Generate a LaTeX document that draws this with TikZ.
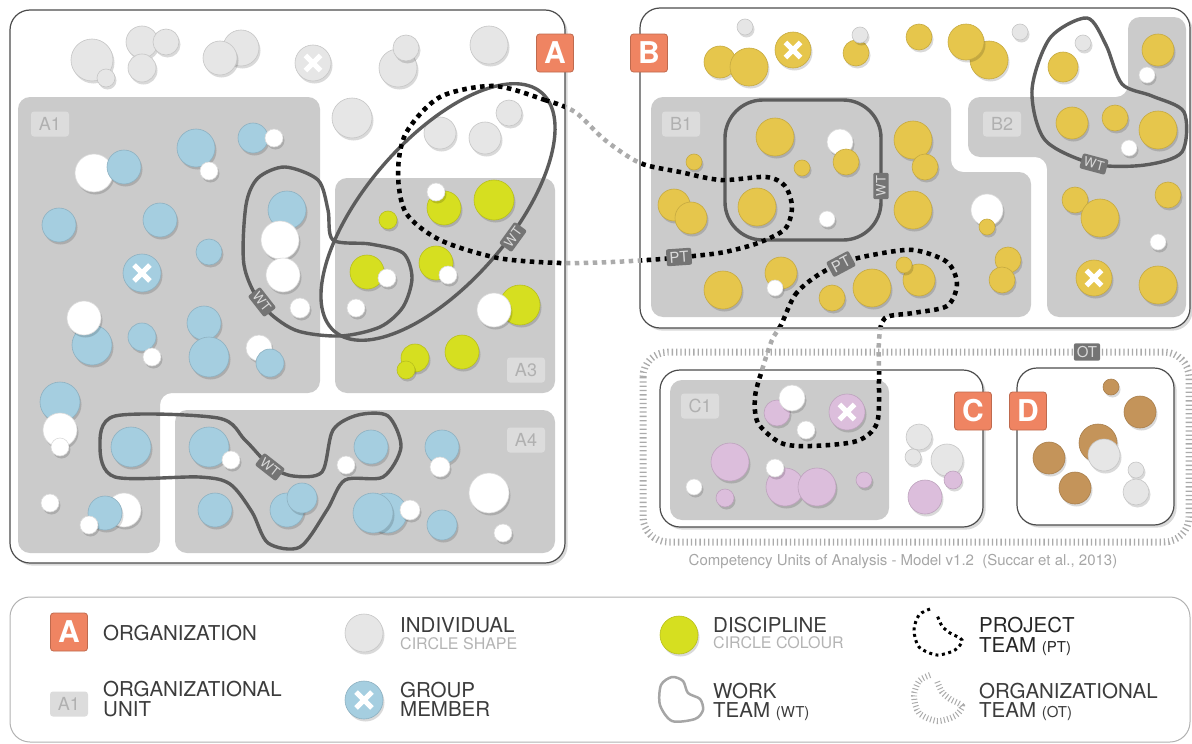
\documentclass[tikz,border=0pt]{standalone}
\usepackage{fontspec}
\setmainfont{TeX Gyre Heros}
\usetikzlibrary{positioning, shadows}

\definecolor{orgorange}{HTML}{EF8462}
\definecolor{unitgray}{HTML}{CBCBCB}
\definecolor{tagfill}{HTML}{DCDCDC}
\definecolor{tagtext}{HTML}{B0B0B0}
\definecolor{indiv}{HTML}{E6E6E6}
\definecolor{blu}{HTML}{A5CEE0}
\definecolor{grn}{HTML}{D6DF20}
\definecolor{gld}{HTML}{E6C64C}
\definecolor{pnk}{HTML}{DCBEDC}
\definecolor{brn}{HTML}{C4945A}
\definecolor{wtline}{HTML}{5C5C5C}
\definecolor{ptgray}{HTML}{ABABAB}
\definecolor{legtext}{HTML}{3C3C3C}
\definecolor{lighttext}{HTML}{B4B4B4}

% one person: colour, x, y, radius
\newcommand{\person}[4]{%
  \fill[black, opacity=.15] (#2+1.5,#3+2.5) circle (#4pt);
  \filldraw[fill=#1, draw=#1!86!black, line width=.6pt] (#2,#3) circle (#4pt);}
% group member cross: x, y, radius
\newcommand{\grpx}[3]{%
  \draw[xmark] (#1-.42*#3,#2-.42*#3) -- (#1+.42*#3,#2+.42*#3)
    (#1-.42*#3,#2+.42*#3) -- (#1+.42*#3,#2-.42*#3);}

\begin{document}
\begin{tikzpicture}[x=1pt, y=-1pt,
  orgbox/.style={fill=white, draw=black!70, line width=1.2pt, rounded corners=20pt, drop shadow={opacity=.3}},
  unit/.style={fill=unitgray, rounded corners=12pt},
  unittag/.style={fill=tagfill, text=tagtext, rounded corners=3pt, minimum width=38pt, minimum height=25pt, inner sep=0pt, font=\fontsize{18}{18}\selectfont},
  orglbl/.style={fill=orgorange, draw=orgorange!80!black, line width=.8pt, text=white, rounded corners=3pt, minimum width=37pt, minimum height=38pt, inner sep=0pt, font=\fontsize{30}{30}\selectfont\bfseries},
  wtpath/.style={draw=wtline, line width=3.4pt},
  ptpath/.style={line width=4.5pt, dash pattern=on 4.5pt off 4.5pt},
  otpath/.style={draw=ptgray, line width=7pt, dash pattern=on 1.3pt off 3pt},
  teamtag/.style={fill=wtline!85!white, text=white!85!black, rounded corners=2pt, inner sep=3pt, font=\fontsize{13}{13}\selectfont},
  xmark/.style={white, line width=5pt},
  legtxt/.style={anchor=base west, inner sep=0pt, text=legtext, font=\fontsize{20.5}{20.5}\selectfont},
  legsub/.style={anchor=base west, inner sep=0pt, text=lighttext, font=\fontsize{16}{16}\selectfont}]
\useasboundingbox (0,0) rectangle (1192,744);

% legend frame and organizational team
\path[fill=white, draw=black!30, line width=1pt, rounded corners=20pt] (10,597) rectangle (1190,742);
\draw[otpath, rounded corners=25pt] (643,352) rectangle (1189,542);

% organizations
\path[orgbox] (10,10) rectangle (565,563);
\path[orgbox] (640,8) rectangle (1190,328);
\path[orgbox] (660,370) rectangle (983,527);
\path[orgbox] (1017,368) rectangle (1174,525);

% organizational units
\path[unit] (18,97) -- (320,97) -- (320,393) -- (160,393) -- (160,553) -- (18,553) -- cycle;
\path[unit] (335,178) rectangle (555,393);
\path[unit] (175,410) rectangle (555,553);
\path[unit] (651,97) -- (951,97) -- (951,172) -- (1031,172) -- (1031,317) -- (651,317) -- cycle;
\path[unit] (968,97) -- (1128,97) -- (1128,17) -- (1186,17) -- (1186,317) -- (1047,317) -- (1047,157) -- (968,157) -- cycle;
\path[unit] (670,380) rectangle (889,520);

\node[unittag] (tA1) at (50,124) {A1};
\node[unittag] (tA3) at (526,370) {A3};
\node[unittag] (tA4) at (526,440) {A4};
\node[unittag] (tB1) at (681,124) {B1};
\node[unittag] (tB2) at (1002,124) {B2};
\node[unittag] (tC1) at (700,406) {C1};

% individuals of A
\foreach \c/\x/\y/\r in {indiv/92/60/21, indiv/106/78/9, indiv/142/42/16, indiv/166/42/13, indiv/142/68/14,
    indiv/241/48/18, indiv/220/58/17, indiv/313/63/18, indiv/398/68/19, indiv/406/48/13, indiv/489/45/19,
    indiv/352/118/20, indiv/440/133/16, indiv/485/138/16, indiv/509/113/13,
    white/94/173/19, blu/124/167/17, blu/196/148/19, white/209/171/9, blu/253/138/15, white/274/138/9,
    blu/59/225/17, blu/160/220/17, blu/209/252/13, blu/142/273/19,
    blu/287/210/19, white/280/240/19, white/283/275/17,
    blu/92/345/20, white/84/318/17, blu/142/337/14, white/152/357/9,
    blu/204/323/17, blu/209/357/20, white/259/348/13, blu/270/363/14, white/300/308/10,
    blu/60/402/20, white/60/430/17, white/60/447/9, white/50/503/9,
    white/124/510/17, blu/105/513/17, white/89/525/9, blu/131/447/20,
    blu/209/447/20, white/231/460/9, blu/215/510/17, blu/287/510/17, blu/302/498/15,
    white/346/465/9, blu/371/447/17, blu/442/447/17, white/440/467/10,
    blu/387/513/20, blu/373/513/20, white/410/510/10, blu/442/525/15, white/489/493/20, white/503/533/9,
    grn/444/208/17, white/436/192/9, grn/494/200/20, grn/388/220/9,
    grn/367/272/17, white/387/278/9, grn/436/263/17, white/448/275/9, white/356/308/9,
    grn/520/305/20, white/494/310/17, grn/415/358/14, grn/406/370/9, grn/462/352/17}
  {\person{\c}{\x}{\y}{\r}}

% individuals of B
\foreach \c/\x/\y/\r in {indiv/745/27/8, gld/720/62/16, gld/749/67/19, gld/793/50/18,
    gld/856/53/13, indiv/860/35/8, gld/919/37/13, gld/989/60/19, gld/966/42/18, indiv/1020/32/8,
    gld/1063/67/15, indiv/1083/43/8, gld/1158/50/16, white/1147/75/8,
    gld/694/162/8, gld/775/137/19, white/840/142/13, gld/846/162/13, gld/802/168/8,
    gld/913/140/19, gld/925/167/13, gld/674/205/16, gld/691/218/16, gld/757/207/19,
    white/827/219/8, gld/913/210/19, white/987/210/16, gld/987/227/8,
    gld/1008/260/13, gld/1002/280/13, gld/723/290/19, gld/781/273/16, white/775/288/8,
    gld/832/298/13, gld/872/288/19, gld/919/280/16, gld/904/265/8,
    gld/1072/123/16, gld/1115/118/13, gld/1158/130/19, white/1129/148/8,
    gld/1075/200/13, gld/1100/218/19, gld/1168/195/13, white/1158/242/8,
    gld/1094/278/18, gld/1158/285/19}
  {\person{\c}{\x}{\y}{\r}}

% individuals of C and D
\foreach \c/\x/\y/\r in {pnk/777/413/13, white/792/398/13, pnk/847/412/18, white/806/430/9,
    pnk/730/462/19, pnk/785/487/19, pnk/817/487/19, white/775/468/9, white/694/487/8,
    pnk/725/498/9, pnk/864/480/8,
    indiv/919/437/13, indiv/913/457/8, indiv/947/460/16, pnk/953/480/9, pnk/925/497/17,
    brn/1111/387/8, brn/1140/412/16, brn/1098/443/19, indiv/1104/455/16, brn/1049/458/16,
    indiv/1136/470/8, indiv/1136/492/13, brn/1075/488/16}
  {\person{\c}{\x}{\y}{\r}}

% group members
\grpx{313}{63}{18}
\grpx{142}{273}{19}
\grpx{793}{50}{18}
\grpx{1094}{278}{18}
\grpx{847}{412}{18}

% work teams
\draw[wtpath] plot[smooth cycle] coordinates {(285,167) (318,180) (328,210) (333,240) (370,244) (403,253)
  (412,278) (403,307) (380,327) (340,336) (295,330) (262,305) (244,265) (246,205) (258,178)};
\draw[wtpath, rotate around={49:(438,212)}] (438,212) ellipse (158pt and 72pt);
\draw[wtpath] plot[smooth cycle] coordinates {(115,416) (218,418) (245,440) (270,466) (293,476) (322,472)
  (333,430) (358,415) (388,416) (401,447) (383,477) (345,480) (327,510) (300,547) (268,543) (252,512)
  (230,484) (199,477) (115,477) (100,447)};
\draw[wtpath, rounded corners=38pt] (725,100) rectangle (881,240);
\draw[wtpath] plot[smooth cycle] coordinates {(1087,18) (1050,38) (1032,90) (1045,140) (1094,164)
  (1145,165) (1182,152) (1184,112) (1152,96) (1122,84) (1106,45)};

\node[teamtag, rotate=-52] (wt1) at (262,302) {WT};
\node[teamtag, rotate=54] (wt2) at (513,237) {WT};
\node[teamtag, rotate=-38] (wt3) at (270,467) {WT};
\node[teamtag, rotate=90] (wt4) at (881,186) {WT};
\node[teamtag, rotate=-15] (wt5) at (1094,164) {WT};

% project teams
\def\ptone{(494,86) (545,100) (575,112) (605,140) (640,163) (680,172) (721,180) (766,177) (785,186)
  (792,207) (785,229) (758,243) (725,252) (694,256) (662,259) (612,262) (560,263) (498,258) (440,240)
  (406,213) (398,173) (406,133) (440,97)}
\def\pttwo{(781,325) (795,295) (815,277) (841,263) (872,255) (913,250) (947,262) (957,284) (947,306)
  (913,313) (885,318) (879,340) (879,380) (877,423) (857,441) (811,446) (781,443) (758,423) (755,397)
  (762,370) (772,340)}
\draw[ptpath, ptgray] plot[smooth cycle] coordinates {\ptone};
\draw[ptpath, ptgray] plot[smooth cycle] coordinates {\pttwo};
\begin{scope}
  \clip (10,10) rectangle (565,563) (641,9) rectangle (1190,327) (661,371) rectangle (983,527);
  \draw[ptpath, black] plot[smooth cycle] coordinates {\ptone};
  \draw[ptpath, black] plot[smooth cycle] coordinates {\pttwo};
\end{scope}
\node[teamtag, font=\fontsize{15}{15}\selectfont, rotate=4] (pt1) at (679,257) {PT};
\node[teamtag, font=\fontsize{15}{15}\selectfont, rotate=28] (pt2) at (841,264) {PT};
\node[teamtag, font=\fontsize{15}{15}\selectfont] (ot1) at (1087,352) {OT};

% organization labels
\node[orglbl] (lA) at (555,53) {A};
\node[orglbl] (lB) at (649,53) {B};
\node[orglbl] (lC) at (973,411) {C};
\node[orglbl] (lD) at (1028,411) {D};

\node[anchor=base, text=black!35, font=\fontsize{15}{15}\selectfont] (cap) at (903,565)
  {Competency Units of Analysis - Model v1.2~~(Succar et al., 2013)};

% legend
\node[orglbl] (legA) at (69,632) {A};
\node[legtxt] (legorg) at (103,640) {ORGANIZATION};
\node[unittag] (legA1) at (69,704) {A1};
\node[legtxt] (legunit1) at (103,696) {ORGANIZATIONAL};
\node[legtxt] (legunit2) at (103,716) {UNIT};
\person{indiv}{364}{633}{19}
\node[legtxt] (legind1) at (400,632) {INDIVIDUAL};
\node[legsub] (legind2) at (400,649) {CIRCLE SHAPE};
\person{blu}{364}{700}{19}
\grpx{364}{700}{19}
\node[legtxt] (leggrp1) at (400,697) {GROUP};
\node[legtxt] (leggrp2) at (400,716) {MEMBER};
\person{grn}{679}{635}{19}
\node[legtxt] (legdis1) at (713,632) {DISCIPLINE};
\node[legsub] (legdis2) at (713,648) {CIRCLE COLOUR};
\draw[draw=black!35, line width=2.5pt] plot[smooth cycle] coordinates {(672,677) (683,681) (688,693)
  (700,699) (703,710) (695,719) (672,721) (660,705) (661,685)};
\node[legtxt] (legwt1) at (713,698) {WORK};
\node[legtxt] (legwt2) at (713,717) {TEAM {\fontsize{15}{15}\selectfont(WT)}};
\draw[ptpath, black, line width=3pt, dash pattern=on 3pt off 3.5pt] plot[smooth] coordinates {(930,609)
  (919,615) (914,630) (919,647) (937,655) (955,650) (962,640) (950,633) (942,626) (937,615)};
\node[legtxt, text=black!85] (legpt1) at (979,632) {PROJECT};
\node[legtxt, text=black!85] (legpt2) at (979,652) {TEAM {\fontsize{15}{15}\selectfont(PT)}};
\draw[otpath, line width=6pt, dash pattern=on 1pt off 2.5pt] plot[smooth] coordinates {(930,675)
  (919,681) (914,696) (919,713) (937,721) (955,716) (962,706) (950,699) (942,692) (937,681)};
\node[legtxt] (legot1) at (979,698) {ORGANIZATIONAL};
\node[legtxt] (legot2) at (979,717) {TEAM {\fontsize{15}{15}\selectfont(OT)}};
\end{tikzpicture}
\end{document}
